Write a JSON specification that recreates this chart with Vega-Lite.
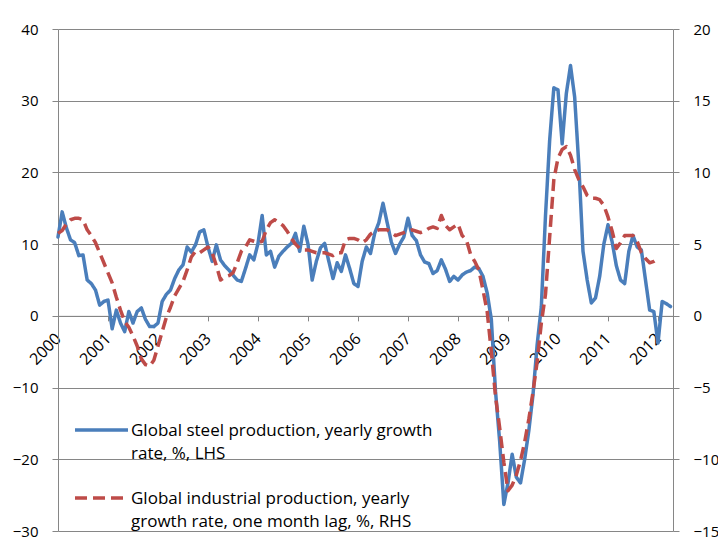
{
  "$schema": "https://vega.github.io/schema/vega-lite/v6.json",
  "width": 615,
  "height": 502,
  "autosize": {"type": "none"},
  "padding": {"left": 58, "top": 29, "right": 45, "bottom": 24},
  "background": "white",
  "config": {
    "font": "Open Sans",
    "view": {"stroke": null},
    "style": {"guide-label": {"lineHeight": 23}},
    "axis": {"labelFont": "Open Sans", "labelFontSize": 15, "labelColor": "#000000", "domainColor": "#868686", "tickColor": "#868686", "gridColor": "#868686", "gridWidth": 1, "domainWidth": 1, "tickWidth": 1, "title": null}
  },
  "data": {"values": [
    {"m":0,"s":11.0,"p":5.75},{"m":1,"s":14.5,"p":5.95},{"m":2,"s":12.3,"p":6.4},{"m":3,"s":10.6,"p":6.7},{"m":4,"s":10.2,"p":6.8},
    {"m":5,"s":8.4,"p":6.8},{"m":6,"s":8.5,"p":6.7},{"m":7,"s":5.0,"p":6.0},{"m":8,"s":4.5,"p":5.6},{"m":9,"s":3.6,"p":5.1},
    {"m":10,"s":1.5,"p":4.4},{"m":11,"s":2.0,"p":3.7},{"m":12,"s":2.2,"p":3.0},{"m":13,"s":-1.8,"p":2.3},{"m":14,"s":0.8,"p":1.3},
    {"m":15,"s":-1.0,"p":0.4},{"m":16,"s":-2.2,"p":-0.4},{"m":17,"s":0.6,"p":-0.8},{"m":18,"s":-1.0,"p":-1.4},{"m":19,"s":0.6,"p":-2.1},
    {"m":20,"s":1.1,"p":-3.0},{"m":21,"s":-0.5,"p":-3.4},{"m":22,"s":-1.5,"p":-3.5},{"m":23,"s":-1.5,"p":-3.1},{"m":24,"s":-1.0,"p":-2.1},
    {"m":25,"s":2.0,"p":-1.1},{"m":26,"s":3.0,"p":-0.1},{"m":27,"s":3.6,"p":0.6},{"m":28,"s":5.2,"p":1.4},{"m":29,"s":6.4,"p":1.9},
    {"m":30,"s":7.1,"p":2.4},{"m":31,"s":9.6,"p":3.2},{"m":32,"s":8.9,"p":4.1},{"m":33,"s":9.9,"p":4.5},{"m":34,"s":11.7,"p":4.4},
    {"m":35,"s":12.0,"p":4.6},{"m":36,"s":9.6,"p":4.8},{"m":37,"s":7.6,"p":4.4},{"m":38,"s":9.9,"p":3.5},{"m":39,"s":7.8,"p":2.5},
    {"m":40,"s":7.0,"p":2.7},{"m":41,"s":6.4,"p":2.8},{"m":42,"s":5.7,"p":3.0},{"m":43,"s":5.0,"p":3.7},{"m":44,"s":4.8,"p":4.5},
    {"m":45,"s":6.6,"p":4.8},{"m":46,"s":8.5,"p":5.3},{"m":47,"s":7.8,"p":5.2},{"m":48,"s":10.1,"p":5.1},{"m":49,"s":14.0,"p":5.2},
    {"m":50,"s":8.5,"p":6.0},{"m":51,"s":9.0,"p":6.5},{"m":52,"s":6.8,"p":6.7},{"m":53,"s":8.3,"p":6.5},{"m":54,"s":9.0,"p":6.3},
    {"m":55,"s":9.6,"p":5.9},{"m":56,"s":10.1,"p":5.4},{"m":57,"s":11.5,"p":5.0},{"m":58,"s":9.0,"p":4.7},{"m":59,"s":12.5,"p":4.6},
    {"m":60,"s":10.0,"p":4.6},{"m":61,"s":5.0,"p":4.5},{"m":62,"s":7.6,"p":4.4},{"m":63,"s":9.5,"p":4.4},{"m":64,"s":10.1,"p":4.4},
    {"m":65,"s":7.6,"p":4.3},{"m":66,"s":5.2,"p":4.2},{"m":67,"s":7.4,"p":4.4},{"m":68,"s":6.2,"p":4.4},{"m":69,"s":8.5,"p":5.3},
    {"m":70,"s":6.6,"p":5.4},{"m":71,"s":4.5,"p":5.4},{"m":72,"s":4.1,"p":5.3},{"m":73,"s":7.6,"p":5.1},{"m":74,"s":9.6,"p":5.3},
    {"m":75,"s":8.7,"p":5.7},{"m":76,"s":11.5,"p":5.9},{"m":77,"s":13.0,"p":6.0},{"m":78,"s":15.7,"p":6.0},{"m":79,"s":13.0,"p":6.0},
    {"m":80,"s":10.3,"p":5.8},{"m":81,"s":8.7,"p":5.6},{"m":82,"s":10.0,"p":5.7},{"m":83,"s":11.0,"p":5.8},{"m":84,"s":13.6,"p":5.9},
    {"m":85,"s":11.2,"p":6.0},{"m":86,"s":10.5,"p":5.9},{"m":87,"s":8.5,"p":5.8},{"m":88,"s":7.5,"p":5.9},{"m":89,"s":7.3,"p":6.1},
    {"m":90,"s":5.9,"p":6.2},{"m":91,"s":6.3,"p":6.1},{"m":92,"s":7.8,"p":7.0},{"m":93,"s":6.5,"p":6.3},{"m":94,"s":4.8,"p":6.0},
    {"m":95,"s":5.5,"p":6.2},{"m":96,"s":5.0,"p":6.4},{"m":97,"s":5.7,"p":5.6},{"m":98,"s":6.1,"p":5.3},{"m":99,"s":6.3,"p":4.3},
    {"m":100,"s":6.8,"p":3.8},{"m":101,"s":6.6,"p":3.2},{"m":102,"s":5.5,"p":1.8},{"m":103,"s":3.2,"p":0.3},{"m":104,"s":-0.5,"p":-2.5},
    {"m":105,"s":-10.5,"p":-5.6},{"m":106,"s":-17.5,"p":-7.8},{"m":107,"s":-26.3,"p":-10.2},{"m":108,"s":-23.3,"p":-12.2},{"m":109,"s":-19.3,"p":-11.8},
    {"m":110,"s":-22.5,"p":-11.1},{"m":111,"s":-23.3,"p":-10.1},{"m":112,"s":-20.0,"p":-8.8},{"m":113,"s":-16.0,"p":-7.2},{"m":114,"s":-11.0,"p":-5.3},
    {"m":115,"s":-4.0,"p":-3.2},{"m":116,"s":1.3,"p":-0.5},{"m":117,"s":14.0,"p":1.5},{"m":118,"s":24.5,"p":5.5},{"m":119,"s":31.8,"p":9.5},
    {"m":120,"s":31.5,"p":11.0},{"m":121,"s":24.0,"p":11.6},{"m":122,"s":31.0,"p":11.8},{"m":123,"s":34.9,"p":11.2},{"m":124,"s":30.5,"p":10.2},
    {"m":125,"s":21.0,"p":9.5},{"m":126,"s":9.0,"p":9.0},{"m":127,"s":5.0,"p":8.4},{"m":128,"s":1.8,"p":8.2},{"m":129,"s":2.5,"p":8.2},
    {"m":130,"s":5.5,"p":8.1},{"m":131,"s":10.0,"p":7.7},{"m":132,"s":12.7,"p":6.9},{"m":133,"s":10.3,"p":5.9},{"m":134,"s":7.0,"p":4.7},
    {"m":135,"s":5.0,"p":5.1},{"m":136,"s":4.5,"p":5.6},{"m":137,"s":9.0,"p":5.6},{"m":138,"s":11.2,"p":5.6},{"m":139,"s":9.6,"p":5.2},
    {"m":140,"s":9.2,"p":4.4},{"m":141,"s":5.0,"p":4.0},{"m":142,"s":0.8,"p":3.7},{"m":143,"s":0.6,"p":3.8},{"m":144,"s":-3.8,"p":4.0},
    {"m":145,"s":2.0,"p":null},{"m":146,"s":1.7,"p":null},{"m":147,"s":1.3,"p":null}
  ]},
  "encoding": {
    "x": {
      "field": "m", "type": "quantitative",
      "scale": {"domain": [0, 147.6], "nice": false, "zero": false},
      "axis": {
        "orient": "bottom", "offset": -215.14, "values": [0,12,24,36,48,60,72,84,96,108,120,132,144],
        "labelExpr": "2000 + datum.value / 12", "labelAngle": -45, "labelAlign": "right", "labelBaseline": "middle",
        "labelPadding": 15, "tickSize": 5, "grid": false, "domain": true, "labelFontSize": 16, "labelBound": false, "labelOverlap": false
      }
    }
  },
  "layer": [
    {
      "mark": {"type": "line", "strokeWidth": 3.5, "strokeJoin": "round", "strokeCap": "round"},
      "encoding": {
        "y": {
          "field": "s", "type": "quantitative",
          "scale": {"domain": [-30, 40], "nice": false, "zero": false},
          "axis": {"orient": "left", "values": [-30,-20,-10,0,10,20,30,40], "grid": true, "tickSize": 6, "labelPadding": 14, "domain": true}
        },
        "color": {
          "datum": "Global steel production, yearly growth rate, %, LHS",
          "scale": {"domain": ["Global steel production, yearly growth rate, %, LHS", "Global industrial production, yearly growth rate, one month lag, %, RHS"], "range": ["#4A7EBB", "#BE4B48"]},
          "legend": {
            "orient": "none", "legendX": 15, "legendY": 365.4, "padding": 0, "title": null,
            "symbolType": "M-1,0.265H1", "symbolSize": 2809, "symbolStrokeWidth": 3.5,
            "labelFont": "Open Sans", "labelFontSize": 17, "labelColor": "#000000", "labelLimit": 600, "labelOffset": 1, "labelBaseline": "top", "rowPadding": -8.5,
            "labelExpr": "datum.value == 'Global steel production, yearly growth rate, %, LHS' ? ['Global steel production, yearly growth', 'rate, %, LHS'] : ['Global industrial production, yearly', 'growth rate, one month lag, %, RHS']"
          }
        },
        "strokeDash": {
          "datum": "Global steel production, yearly growth rate, %, LHS",
          "scale": {"domain": ["Global steel production, yearly growth rate, %, LHS", "Global industrial production, yearly growth rate, one month lag, %, RHS"], "range": [[1, 0], [12, 6]]},
          "legend": {
            "orient": "none", "legendX": 15, "legendY": 365.4, "padding": 0, "title": null,
            "symbolType": "M-1,0.265H1", "symbolSize": 2809, "symbolStrokeWidth": 3.5,
            "labelFont": "Open Sans", "labelFontSize": 17, "labelColor": "#000000", "labelLimit": 600, "labelOffset": 1, "labelBaseline": "top", "rowPadding": -8.5,
            "labelExpr": "datum.value == 'Global steel production, yearly growth rate, %, LHS' ? ['Global steel production, yearly growth', 'rate, %, LHS'] : ['Global industrial production, yearly', 'growth rate, one month lag, %, RHS']"
          }
        }
      }
    },
    {
      "mark": {"type": "line", "strokeWidth": 3.5, "strokeJoin": "round"},
      "encoding": {
        "y": {
          "field": "p", "type": "quantitative",
          "scale": {"domain": [-15, 20], "nice": false, "zero": false},
          "axis": {"orient": "right", "values": [-15,-10,-5,0,5,10,15,20], "grid": false, "tickSize": 6, "labelPadding": 14, "domain": true}
        },
        "color": {"datum": "Global industrial production, yearly growth rate, one month lag, %, RHS"},
        "strokeDash": {"datum": "Global industrial production, yearly growth rate, one month lag, %, RHS"}
      }
    }
  ],
  "resolve": {"scale": {"y": "independent"}}
}
